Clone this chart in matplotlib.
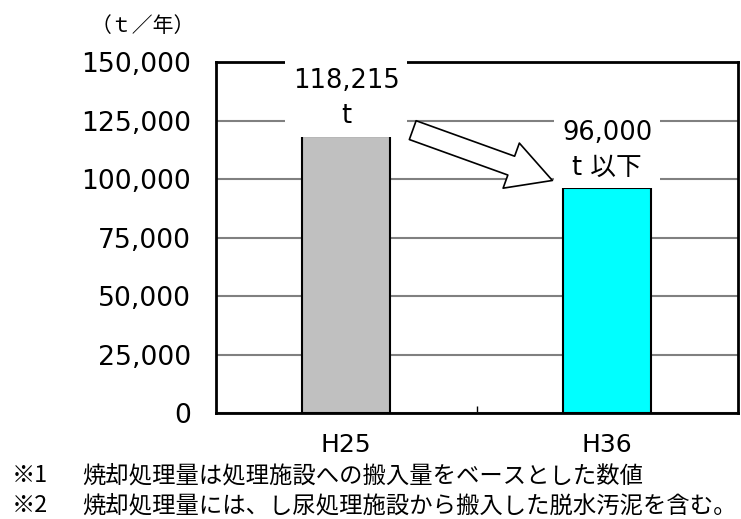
import matplotlib
matplotlib.use("Agg")
import matplotlib.pyplot as plt
from matplotlib.ticker import FuncFormatter, FixedLocator

plt.rcParams['font.family'] = ['DejaVu Sans', 'Noto Sans CJK JP']

# data
categories = ["H25", "H36"]
values = [118215, 96000]
value_labels = ["118,215\nt", "96,000\nt 以下"]
bar_colors = ["#C0C0C0", "#00FFFF"]
y_ticks = [0, 25000, 50000, 75000, 100000, 125000, 150000]
unit_label = "（ｔ／年）"
note_marks = ["※1", "※2"]
note_texts = ["焼却処理量は処理施設への搬入量をベースとした数値",
              "焼却処理量には、し尿処理施設から搬入した脱水汚泥を含む。"]

fig = plt.figure(figsize=(7.41, 5.19), dpi=100)
ax = fig.add_axes([0.291, 0.204, 0.7046, 0.6765])

x = list(range(len(categories)))
ax.bar(x, values, width=0.336, color=bar_colors, edgecolor="black",
       linewidth=1.5, zorder=3)

ax.set_xlim(-0.5, len(categories) - 0.5)
ax.set_ylim(y_ticks[0], y_ticks[-1])
ax.yaxis.set_major_locator(FixedLocator(y_ticks))
ax.yaxis.set_major_formatter(FuncFormatter(lambda v, p: f"{int(v):,}"))
ax.grid(axis="y", color="#808080", linewidth=1.5, zorder=1)

ax.set_xticks(x)
ax.set_xticklabels(categories)
ax.set_xticks([i + 0.5 for i in x[:-1]], minor=True)
ax.tick_params(axis="x", which="major", length=0, pad=14, labelsize=18)
ax.tick_params(axis="x", which="minor", length=5, width=1, direction="in")
ax.tick_params(axis="y", length=0, pad=18, labelsize=19.2)

for s in ax.spines.values():
    s.set_linewidth(2)
    s.set_color("black")
    s.set_zorder(2)

# value labels above the bars, on white boxes that mask the grid
label_y = [134300, 112300]
for xi, yl, txt in zip(x, label_y, value_labels):
    ax.text(xi, yl, txt, ha="center", va="center", fontsize=18.5,
            linespacing=1.45, zorder=5,
            bbox=dict(boxstyle="square,pad=0.3", facecolor="white",
                      edgecolor="none"))

# hollow arrow pointing from H25 to H36
ax.annotate("", xy=(0.79, 99400), xytext=(0.255, 120900),
            arrowprops=dict(arrowstyle="simple,head_length=1.05,head_width=1.15,tail_width=0.48",
                            mutation_scale=30, facecolor="white",
                            edgecolor="black", linewidth=1.2,
                            shrinkA=0, shrinkB=0),
            zorder=6)

cjk = ["Noto Sans CJK JP"]
fig.text(0.122, 0.950, unit_label, fontsize=15, family=cjk,
         ha="left", va="center")
for i, (mark, body) in enumerate(zip(note_marks, note_texts)):
    yy = 0.083 - i * 0.057
    fig.text(0.016, yy, mark, fontsize=16.8, family=cjk, ha="left", va="center")
    fig.text(0.111, yy, body, fontsize=16.8, family=cjk, ha="left", va="center")

fig.savefig("out.png", dpi=100)
